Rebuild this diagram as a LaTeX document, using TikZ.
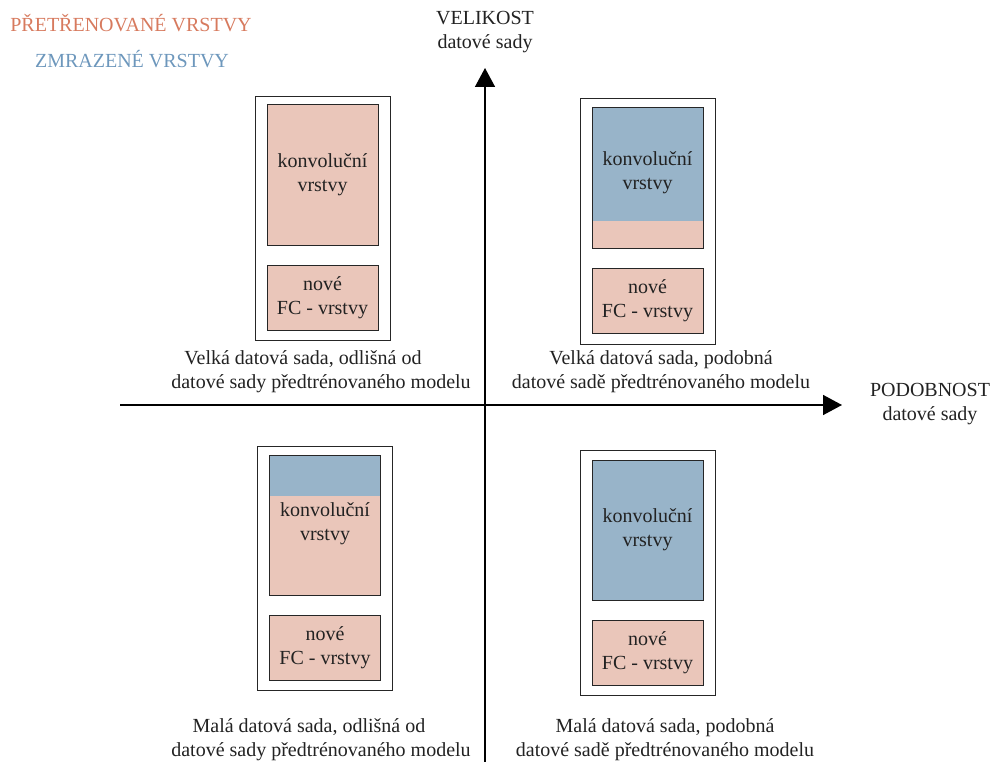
\documentclass[tikz,border=0pt]{standalone}
\usepackage{fontspec}
\setmainfont{Liberation Serif}
\usetikzlibrary{arrows.meta}

\definecolor{retrained}{HTML}{EAC6BA}
\definecolor{frozen}{HTML}{98B4C9}
\definecolor{retrainedtext}{HTML}{D77A5E}
\definecolor{frozentext}{HTML}{6D97BC}
\definecolor{ink}{HTML}{222222}

\begin{document}
\begin{tikzpicture}[x=1pt, y=-1pt,
  txt/.style={font=\fontsize{20}{24}\selectfont, align=center, inner sep=0pt, text=ink},
  outerbox/.style={draw=black!85, line width=0.9pt, inner sep=0pt, minimum width=135pt},
  layerbox/.style={txt, draw=black!85, line width=1pt, minimum width=111pt},
  convbox/.style={layerbox, minimum height=140pt},
  fcbox/.style={layerbox, fill=retrained, minimum height=65pt},
  frozentop/.style={path picture={\fill[frozen] (path picture bounding box.north west)
      rectangle ([yshift=-#1]path picture bounding box.north east);}},
  axis/.style={line width=1.5pt, -{Triangle[width=20pt,length=19pt]}},
]
\useasboundingbox (0,0) rectangle (995,762);

% legend
\node[txt, text=retrainedtext] (legR) at (131,23) {PŘETŘENOVANÉ VRSTVY};
\node[txt, text=frozentext] (legF) at (132,59) {ZMRAZENÉ VRSTVY};

% axes
\coordinate (ybot) at (485,762);
\coordinate (ytip) at (485,68);
\coordinate (xleft) at (120,405);
\coordinate (xtip) at (842,405);
\draw[axis] (ybot) -- (ytip);
\draw[axis] (xleft) -- (xtip);
\node[txt] (ylab) at (485,32) {VELIKOST\\datové sady};
\node[txt] (xlab) at (930,404) {PODOBNOST\\datové sady};

% top left: large dataset, different
\node[outerbox, minimum height=244pt] (tlO) at (323,218) {};
\node[convbox, fill=retrained] (tlC) at (322.5,175) {konvoluční\\vrstvy};
\node[fcbox] (tlF) at (322.5,298) {nové\\FC - vrstvy};
\node[txt] (tlL) at (321,372) {Velká datová sada, odlišná od\hspace*{36pt}\\datové sady předtrénovaného modelu};

% top right: large dataset, similar
\node[outerbox, minimum height=246pt] (trO) at (647.5,221) {};
\node[convbox, fill=retrained, frozentop=113pt] (trC) at (647.5,178) {};
\node[txt] (trCt) at ([yshift=5pt]trC.center) {konvoluční\\vrstvy};
\node[fcbox] (trF) at (647.5,300.5) {nové\\FC - vrstvy};
\node[txt] (trL) at (661,372) {Velká datová sada, podobná\\datové sadě předtrénovaného modelu};

% bottom left: small dataset, different
\node[outerbox, minimum height=244pt] (blO) at (325,568) {};
\node[convbox, fill=retrained, frozentop=40pt] (blC) at (325,525.5) {};
\node[txt] (blCt) at ([yshift=2pt]blC.center) {konvoluční\\vrstvy};
\node[fcbox] (blF) at (325,648) {nové\\FC - vrstvy};
\node[txt] (blL) at (321,740) {Malá datová sada, odlišná od\hspace*{24pt}\\datové sady předtrénovaného modelu};

% bottom right: small dataset, similar
\node[outerbox, minimum height=245pt] (brO) at (648,573) {};
\node[convbox, fill=frozen] (brC) at (647.5,530) {konvoluční\\vrstvy};
\node[fcbox] (brF) at (647.5,653) {nové\\FC - vrstvy};
\node[txt] (brL) at (665,740) {Malá datová sada, podobná\\datové sadě předtrénovaného modelu};
\end{tikzpicture}
\end{document}
